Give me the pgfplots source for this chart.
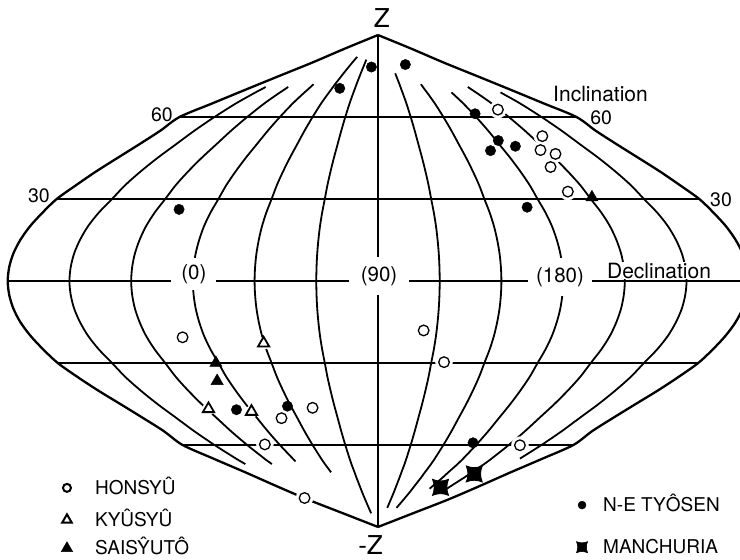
\documentclass[border=0pt]{standalone}
\usepackage{fontspec}
\setmainfont{TeX Gyre Heros}
\usepackage{pgfplots}
\usepackage{pgfplotstable}
\pgfplotsset{compat=1.18}

% square with concave sides (Manchuria sites)
\pgfdeclareplotmark{pinched}{%
  \pgfpathmoveto{\pgfqpoint{-\pgfplotmarksize}{-\pgfplotmarksize}}%
  \pgfpathcurveto{\pgfqpoint{-0.3\pgfplotmarksize}{-0.72\pgfplotmarksize}}{\pgfqpoint{0.3\pgfplotmarksize}{-0.72\pgfplotmarksize}}{\pgfqpoint{\pgfplotmarksize}{-\pgfplotmarksize}}%
  \pgfpathcurveto{\pgfqpoint{0.72\pgfplotmarksize}{-0.3\pgfplotmarksize}}{\pgfqpoint{0.72\pgfplotmarksize}{0.3\pgfplotmarksize}}{\pgfqpoint{\pgfplotmarksize}{\pgfplotmarksize}}%
  \pgfpathcurveto{\pgfqpoint{0.3\pgfplotmarksize}{0.72\pgfplotmarksize}}{\pgfqpoint{-0.3\pgfplotmarksize}{0.72\pgfplotmarksize}}{\pgfqpoint{-\pgfplotmarksize}{\pgfplotmarksize}}%
  \pgfpathcurveto{\pgfqpoint{-0.72\pgfplotmarksize}{0.3\pgfplotmarksize}}{\pgfqpoint{-0.72\pgfplotmarksize}{-0.3\pgfplotmarksize}}{\pgfqpoint{-\pgfplotmarksize}{-\pgfplotmarksize}}%
  \pgfpathclose
  \pgfusepathqfillstroke
}

% outline of the net: half-width (projected degrees) against inclination
\pgfplotstableread{
lat xb
-90 0
-85 17.0
-80 34.0
-75 49.5
-70 64.5
-65 80.0
-60 95.0
-55 104.0
-50 114.5
-45 125.3
-40 136.2
-35 146.3
-30 155.7
-25 162.8
-20 169.0
-15 173.9
-10 177.3
-5 179.3
0 180
5 179.3
10 177.3
15 173.9
20 169.2
25 163.1
30 156.2
35 146.9
40 137.2
45 126.7
50 116.1
55 105.8
60 96.5
65 80.5
70 64.4
75 48.1
80 31.7
85 16.2
90 0
}\outline

% shrink factor of the declination meridians against inclination
\pgfplotstableread{
lat f
-85 0.111
-83 0.150
-80 0.207
-77 0.262
-76 0.279
-75 0.296
-72 0.348
-71 0.364
-70 0.380
-67 0.430
-66 0.445
-65 0.460
-60 0.530
-55 0.595
-50 0.655
-45 0.715
-40 0.770
-35 0.820
-30 0.862
-25 0.905
-20 0.940
-15 0.966
-10 0.985
-5 0.996
0 1.000
5 0.996
10 0.985
15 0.966
20 0.940
25 0.905
30 0.862
35 0.820
40 0.770
45 0.715
50 0.655
55 0.595
60 0.530
65 0.460
69 0.397
70 0.380
71 0.364
72 0.348
75 0.296
76 0.279
80 0.207
81 0.188
82 0.169
85 0.111
}\profile

% pole positions in net coordinates (x: projected declination, y: inclination)
\pgfplotstableread{
x y
58.3 62.7
79.9 53.0
79.0 47.9
86.3 46.5
83.9 41.7
92.3 32.7
-95.0 -20.6
-31.8 -46.4
-46.9 -50.2
-55.0 -59.8
-35.7 -79.4
22.2 -18.1
32.1 -29.7
69.0 -60.1
}\honsyu

\pgfplotstableread{
x y
-55.6 -22.8
-82.4 -46.8
-61.5 -47.8
}\kyusyu

\pgfplotstableread{
x y
-78.8 -30.0
-78.2 -36.6
104.0 30.6
}\saisyuto

\pgfplotstableread{
x y
-3.2 78.3
13.3 79.2
-18.6 70.5
-96.7 26.2
47.2 61.2
58.5 51.4
66.8 49.3
54.7 47.7
72.5 27.0
-68.8 -47.1
-44.0 -45.8
46.2 -59.2
}\netyosen

\pgfplotstableread{
x y
30.4 -75.5
46.8 -70.6
}\manchuria

\pgfplotsset{
  meridian/.style={black, line width=1.8bp, smooth, no marks, forget plot},
  parallel/.style={black, line width=2.3bp, no marks, forget plot},
  rim/.style={black, line width=2.3bp, smooth, no marks, forget plot},
}

\begin{document}
\begin{tikzpicture}
\begin{axis}[
  at={(0,0)}, anchor=south west,
  width=740bp, height=560bp, scale only axis,
  xmin=-183.76, xmax=175.99, ymin=-102.09, ymax=102.82,
  hide axis, clip=true,
]
% outline
\addplot[rim] table[x=xb, y=lat]{\outline};
\addplot[rim] table[x expr=-\thisrow{xb}, y=lat]{\outline};

% parallels of inclination
\addplot[parallel] coordinates {(-96.5,60) (96.5,60)};
\addplot[parallel] coordinates {(-156.2,30) (156.2,30)};
\addplot[parallel] coordinates {(-180,0) (180,0)};
\addplot[parallel] coordinates {(-155.7,-30) (155.7,-30)};
\addplot[parallel] coordinates {(-95,-60) (95,-60)};

% meridians of declination, every 30 degrees
\addplot[meridian, restrict y to domain=-67:71] table[x expr=-150*\thisrow{f}, y=lat]{\profile};
\addplot[meridian, restrict y to domain=-67:71] table[x expr=-120*\thisrow{f}, y=lat]{\profile};
\addplot[meridian, restrict y to domain=-66:72] table[x expr=-90*\thisrow{f}, y=lat]{\profile};
\addplot[meridian, restrict y to domain=-70:82] table[x expr=-60*\thisrow{f}, y=lat]{\profile};
\addplot[meridian, restrict y to domain=-85:81] table[x expr=-30*\thisrow{f}, y=lat]{\profile};
\addplot[meridian] coordinates {(0,90) (0,-90)};
\addplot[meridian, restrict y to domain=-83:76] table[x expr=30*\thisrow{f}, y=lat]{\profile};
\addplot[meridian, restrict y to domain=-83:72] table[x expr=60*\thisrow{f}, y=lat]{\profile};
\addplot[meridian, restrict y to domain=-76:69] table[x expr=90*\thisrow{f}, y=lat]{\profile};
\addplot[meridian, restrict y to domain=-77:71] table[x expr=120*\thisrow{f}, y=lat]{\profile};
\addplot[meridian, restrict y to domain=-65:69] table[x expr=150*\thisrow{f}, y=lat]{\profile};

% net labels
\node[font=\fontsize{20.5bp}{24bp}\selectfont, fill=white, inner xsep=10bp, inner ysep=6bp] at (axis cs:-89.5,2.6) {(0)};
\node[font=\fontsize{20.5bp}{24bp}\selectfont, fill=white, inner xsep=12bp, inner ysep=9bp] at (axis cs:0.5,1.8) {(90)};
\node[font=\fontsize{20.5bp}{24bp}\selectfont, fill=white, inner xsep=8bp, inner ysep=9bp] at (axis cs:88.5,1.5) {(180)};
\node[font=\fontsize{21bp}{24bp}\selectfont, fill=white, inner xsep=1bp, inner ysep=0bp, text height=17bp, anchor=base west] at (axis cs:110.8,0.9) {Declination};
\node[font=\fontsize{21bp}{24bp}\selectfont, inner sep=0bp, anchor=base west] at (axis cs:85.1,65.5) {Inclination};
\node[font=\fontsize{19.5bp}{22bp}\selectfont, inner sep=0bp, anchor=east] at (axis cs:-99.7,60.7) {60};
\node[font=\fontsize{19.5bp}{22bp}\selectfont, inner sep=0bp, anchor=east] at (axis cs:-159.5,31.1) {30};
\node[font=\fontsize{19.5bp}{22bp}\selectfont, inner sep=0bp, anchor=west] at (axis cs:103.1,59.6) {60};
\node[font=\fontsize{19.5bp}{22bp}\selectfont, inner sep=0bp, anchor=west] at (axis cs:161.4,29.8) {30};
\node[font=\fontsize{26bp}{30bp}\selectfont, inner sep=0bp, anchor=base] at (axis cs:1.9,92.6) {Z};
\node[font=\fontsize{26bp}{30bp}\selectfont, inner sep=0bp, anchor=base] at (axis cs:-3.6,-100.0) {-Z};

% white clearings around the open symbols
\addplot[only marks, mark=*, mark size=8.5bp, white, forget plot] table[x=x, y=y]{\honsyu};
\addplot[only marks, mark=*, mark size=6bp, white, forget plot] table[x=x, y=y]{\kyusyu};

% poles
\addplot[only marks, mark=*, mark size=5.3bp, mark options={draw=black, fill=white, line width=1.3bp}] table[x=x, y=y]{\honsyu};
\addplot[only marks, mark=triangle*, mark size=6.5bp, mark options={draw=black, fill=white, line width=1.8bp}] table[x=x, y=y]{\kyusyu};
\addplot[only marks, mark=triangle*, mark size=7bp, mark options={draw=black, fill=black, line width=0.5bp}] table[x=x, y=y]{\saisyuto};
\addplot[only marks, mark=*, mark size=5.2bp, mark options={draw=black, fill=black}] table[x=x, y=y]{\netyosen};
\addplot[only marks, mark=pinched, mark size=8bp, mark options={draw=black, fill=black, line width=0.8bp}] table[x=x, y=y]{\manchuria};

% key
\addplot[only marks, mark=*, mark size=4bp, mark options={draw=black, fill=white, line width=2bp}, forget plot] coordinates {(-151.2,-75.7)};
\addplot[only marks, mark=triangle*, mark size=5.5bp, mark options={draw=black, fill=white, line width=2bp}, forget plot] coordinates {(-151.2,-87.4)};
\addplot[only marks, mark=triangle*, mark size=6.5bp, mark options={draw=black, fill=black, line width=0.5bp}, forget plot] coordinates {(-151.2,-97.8)};
\addplot[only marks, mark=*, mark size=4bp, mark options={draw=black, fill=black}, forget plot] coordinates {(99.2,-82.0)};
\addplot[only marks, mark=pinched, mark size=5.5bp, mark options={draw=black, fill=black, line width=0.6bp}, forget plot] coordinates {(99.2,-97.4)};
\node[font=\fontsize{19bp}{22bp}\selectfont, inner sep=0bp, anchor=base west] at (axis cs:-137.6,-78.2) {HONSYÛ};
\node[font=\fontsize{19bp}{22bp}\selectfont, inner sep=0bp, anchor=base west] at (axis cs:-137.6,-89.9) {KYÛSYÛ};
\node[font=\fontsize{19bp}{22bp}\selectfont, inner sep=0bp, anchor=base west] at (axis cs:-137.6,-100.2) {SAISŶUTÔ};
\node[font=\fontsize{19bp}{22bp}\selectfont, inner sep=0bp, anchor=base west] at (axis cs:109.4,-84.5) {N-E TYÔSEN};
\node[font=\fontsize{19bp}{22bp}\selectfont, inner sep=0bp, anchor=base west] at (axis cs:109.4,-99.8) {MANCHURIA};
\end{axis}
\pgfresetboundingbox
\path[use as bounding box] (current axis.south west) rectangle (current axis.north east);
\end{tikzpicture}
\end{document}
